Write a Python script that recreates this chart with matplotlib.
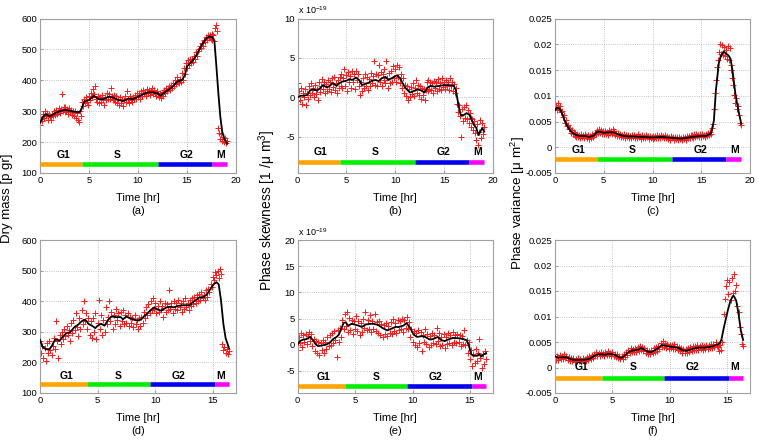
import matplotlib
matplotlib.use('Agg')
import matplotlib.pyplot as plt
import numpy as np

plt.rcParams['font.family'] = ['Liberation Sans', 'DejaVu Sans']
plt.rcParams['mathtext.fontset'] = 'custom'
plt.rcParams['mathtext.rm'] = 'Liberation Sans'
plt.rcParams['mathtext.it'] = 'Liberation Sans:italic'

# ---- data ----
# sample times [hr]
t_top = [0.0, 0.1, 0.2, 0.3, 0.4, 0.5, 0.6, 0.7, 0.8, 0.9,
         1.0, 1.1, 1.2, 1.3, 1.4, 1.5, 1.6, 1.7, 1.8, 1.9,
         2.0, 2.1, 2.2, 2.3, 2.4, 2.5, 2.6, 2.7, 2.8, 2.9,
         3.0, 3.1, 3.2, 3.3, 3.4, 3.5, 3.6, 3.7, 3.8, 3.9,
         4.0, 4.1, 4.2, 4.3, 4.4, 4.5, 4.6, 4.7, 4.8, 4.9,
         5.0, 5.1, 5.2, 5.3, 5.4, 5.5, 5.6, 5.7, 5.8, 5.9,
         6.0, 6.1, 6.2, 6.3, 6.4, 6.5, 6.6, 6.7, 6.8, 6.9,
         7.0, 7.1, 7.2, 7.3, 7.4, 7.5, 7.6, 7.7, 7.8, 7.9,
         8.0, 8.1, 8.2, 8.3, 8.4, 8.5, 8.6, 8.7, 8.8, 8.9,
         9.0, 9.1, 9.2, 9.3, 9.4, 9.5, 9.6, 9.7, 9.8, 9.9,
         10.0, 10.1, 10.2, 10.3, 10.4, 10.5, 10.6, 10.7, 10.8, 10.9,
         11.0, 11.1, 11.2, 11.3, 11.4, 11.5, 11.6, 11.7, 11.8, 11.9,
         12.0, 12.1, 12.2, 12.3, 12.4, 12.5, 12.6, 12.7, 12.8, 12.9,
         13.0, 13.1, 13.2, 13.3, 13.4, 13.5, 13.6, 13.7, 13.8, 13.9,
         14.0, 14.1, 14.2, 14.3, 14.4, 14.5, 14.6, 14.7, 14.8, 14.9,
         15.0, 15.1, 15.2, 15.3, 15.4, 15.5, 15.6, 15.7, 15.8, 15.9,
         16.0, 16.1, 16.2, 16.3, 16.4, 16.5, 16.6, 16.7, 16.8, 16.9,
         17.0, 17.1, 17.2, 17.3, 17.4, 17.5, 17.6, 17.7, 17.8, 17.9,
         18.0, 18.1, 18.2, 18.3, 18.4, 18.5, 18.6, 18.7, 18.8, 18.9,
         19.0, 19.1]
t_bot = t_top[:165]

# cell 1 (top row)
mass1 = [255, 275, 268, 290, 278, 300, 285, 295, 272, 290,
         280, 270, 292, 285, 300, 288, 305, 290, 298, 310,
         295, 308, 355, 300, 312, 298, 315, 300, 308, 292,
         310, 296, 305, 288, 302, 285, 300, 278, 295, 270,
         265, 300, 285, 330, 318, 340, 325, 345, 330, 320,
         348, 335, 360, 345, 372, 355, 380, 340, 330, 350,
         325, 345, 330, 352, 335, 320, 345, 335, 360, 340,
         355, 338, 375, 350, 335, 352, 340, 330, 348, 325,
         340, 320, 345, 328, 338, 318, 335, 350, 330, 365,
         340, 325, 348, 335, 330, 345, 338, 352, 340, 360,
         345, 358, 340, 365, 350, 370, 355, 362, 348, 372,
         358, 368, 352, 365, 375, 355, 368, 360, 350, 365,
         355, 345, 358, 342, 355, 362, 350, 370, 360, 375,
         365, 372, 380, 368, 385, 375, 392, 380, 400, 388,
         410, 395, 390, 405, 395, 425, 400, 440, 420, 455,
         440, 465, 448, 470, 455, 468, 460, 478, 470, 490,
         480, 495, 500, 512, 505, 520, 512, 530, 525, 540,
         532, 548, 538, 545, 535, 550, 530, 545, 528, 570,
         580, 560, 245, 230, 210, 225, 205, 218, 200, 212,
         198, 205]
skew1 = [1.8, -0.5, 0.8, -0.3, 1.2, -0.8, 0.5, 0.0, 1.0, -1.0,
         0.6, -0.2, 1.4, 0.3, 1.8, 0.5, 1.2, 0.0, 1.6, 0.4,
         1.1, -0.3, 1.9, 0.7, 1.5, 2.3, 1.0, 2.0, 0.6, 1.7,
         0.8, 2.2, 1.0, 1.9, 0.7, 2.4, 1.3, 2.6, 0.9, 1.8,
         0.6, 2.2, 1.2, 2.6, 1.5, 3.0, 1.2, 2.5, 3.6, 1.5,
         2.8, 0.8, 3.2, 1.9, 2.7, 1.2, 3.3, 2.0, 2.9, 1.0,
         3.4, 2.2, 3.0, 1.5, 0.3, 2.0, 0.8, 2.4, 1.2, 3.0,
         1.5, 2.6, 0.9, 2.3, 1.4, 3.1, 1.8, 2.7, 4.6, 1.6,
         3.0, 1.4, 2.8, 4.1, 1.9, 3.2, 1.5, 3.0, 2.2, 3.6,
         1.8, 4.6, 2.4, 1.2, 3.1, 1.8, 3.4, 2.0, 4.0, 2.5,
         3.6, 1.9, 4.1, 2.6, 3.8, 1.8, 3.0, 1.2, 2.4, 0.6,
         1.6, 0.2, 1.4, -0.3, 1.0, 0.0, 1.3, 0.4, 1.8, 0.2,
         1.2, 2.2, 0.5, 1.6, 0.3, 1.4, -0.2, 1.2, 0.3, 1.0,
         -0.3, 0.9, 2.0, 0.8, 2.2, 1.0, 2.0, 0.9, 1.8, 0.6,
         2.1, 1.2, 1.9, 0.8, 2.3, 1.1, 1.8, 0.9, 2.4, 1.3,
         1.9, 1.0, 2.2, 1.4, 2.0, 0.9, 2.5, 1.5, 2.0, 0.8,
         1.7, 0.5, 1.2, -0.8, -1.8, -1.0, -2.4, -5.0, -1.5, -3.0,
         -1.2, -2.6, -1.0, -2.8, -1.6, -3.2, -2.0, -2.6, -3.8, -2.8,
         -4.2, -3.0, -4.5, -5.4, -3.4, -6.0, -4.4, -2.9, -5.2, -3.3,
         -4.6, -3.8]  # x 1e-19
var1 = [7.6, 8.2, 7.2, 8.5, 7.4, 8.0, 6.9, 7.1, 5.8, 6.2,
        4.8, 5.2, 4.1, 4.4, 3.5, 3.8, 2.8, 3.3, 2.5, 2.9,
        2.2, 2.7, 2.0, 2.5, 1.9, 2.4, 1.8, 2.6, 2.0, 2.4,
        1.8, 2.5, 2.1, 1.7, 2.3, 1.6, 2.2, 1.8, 2.5, 2.0,
        2.4, 2.8, 2.5, 3.3, 2.7, 3.6, 2.8, 3.3, 2.6, 3.1,
        2.5, 3.2, 2.6, 3.0, 2.4, 3.4, 2.7, 3.1, 2.5, 3.6,
        2.8, 3.2, 2.4, 2.8, 2.2, 2.7, 2.1, 2.5, 1.9, 2.4,
        2.0, 2.5, 1.8, 2.3, 1.9, 2.4, 1.8, 2.2, 1.7, 2.4,
        1.9, 2.3, 1.7, 2.2, 1.8, 2.5, 1.9, 2.1, 1.6, 2.3,
        1.8, 2.2, 1.7, 2.4, 1.9, 2.1, 1.6, 2.2, 1.8, 2.0,
        1.6, 2.2, 1.7, 2.1, 1.8, 2.3, 1.7, 2.2, 1.8, 2.4,
        1.9, 2.1, 1.7, 2.3, 1.8, 2.2, 1.6, 2.0, 1.5, 2.1,
        1.7, 1.9, 1.5, 2.0, 1.6, 1.9, 1.5, 2.0, 1.6, 1.8,
        1.4, 2.0, 1.6, 1.9, 1.5, 2.1, 1.7, 2.2, 1.8, 2.3,
        1.9, 2.4, 1.8, 2.5, 2.0, 2.6, 2.1, 2.4, 1.9, 2.5,
        2.0, 2.6, 2.1, 2.4, 1.9, 2.6, 2.2, 2.8, 2.3, 3.0,
        2.5, 3.8, 4.5, 7.5, 10.5, 13.0, 15.5, 17.0, 18.5, 20.0,
        18.2, 19.8, 18.0, 19.5, 17.8, 18.8, 17.2, 19.6, 17.0, 19.2,
        16.0, 15.0, 13.5, 12.0, 10.2, 8.5, 9.5, 7.4, 8.0, 6.2,
        4.8, 4.4]  # x 1e-3

# smoothed curves, cell 1
ct_mass1 = [0.0, 0.3, 0.6, 1.0, 1.5, 2.0, 2.5, 3.0, 3.5, 4.0, 4.2, 4.5, 5.0, 5.5, 6.0,
            6.5, 7.0, 7.5, 8.0, 8.5, 9.0, 9.5, 10.0, 10.5, 11.0, 11.5, 12.0, 12.3,
            12.5, 13.0, 13.5, 14.0, 14.5, 14.8, 15.0, 15.5, 16.0, 16.5, 17.0, 17.3,
            17.6, 17.8, 18.0, 18.2, 18.4, 18.6, 18.8, 19.0, 19.1]
cy_mass1 = [262, 282, 290, 283, 293, 300, 304, 302, 298, 297, 304, 331, 336, 350, 339,
            339, 347, 344, 336, 333, 341, 339, 347, 355, 361, 361, 358, 350,
            356, 367, 378, 396, 401, 418, 445, 461, 483, 515, 537, 542,
            539, 526, 445, 358, 282, 233, 212, 201, 195]
ct_skew1 = [0.0, 0.3, 0.6, 1.0, 1.3, 1.6, 2.0, 2.3, 2.6, 3.0, 3.3, 3.6, 4.0, 4.3, 4.6,
            5.0, 5.3, 5.6, 6.0, 6.3, 6.6, 7.0, 7.3, 7.6, 8.0, 8.3, 8.6, 9.0, 9.3, 9.6,
            10.0, 10.2, 10.5, 11.0, 11.5, 12.0, 12.3, 12.6, 13.0, 13.3, 13.6, 14.0,
            14.5, 15.0, 15.5, 16.0, 16.2, 16.5, 16.7, 17.0, 17.3, 17.6, 18.0, 18.3,
            18.5, 18.7, 18.9, 19.1]
cy_skew1 = [0.0, 0.2, 0.2, 0.3, 0.9, 1.0, 0.85, 1.15, 1.55, 1.25, 1.45, 1.8, 1.45, 1.8, 2.0,
            2.1, 2.3, 2.2, 2.5, 2.2, 1.55, 1.75, 1.85, 2.1, 2.2, 2.05, 2.4, 2.6, 2.2, 2.4,
            2.7, 2.8, 2.4, 1.25, 0.6, 0.85, 1.0, 0.9, 0.6, 1.25, 1.45, 1.35,
            1.45, 1.55, 1.55, 1.45, 0.9, -1.2, -2.25, -2.25, -2.0, -2.25, -3.4, -3.9,
            -4.8, -4.35, -3.9, -4.35]
ct_var1 = [0.0, 0.2, 0.5, 0.8, 1.0, 1.3, 1.6, 2.0, 2.5, 3.0, 3.5, 4.0, 4.3, 4.6, 5.0,
           5.5, 6.0, 6.5, 7.0, 7.5, 8.0, 9.0, 10.0, 11.0, 12.0, 13.0, 13.5, 14.0,
           15.0, 15.5, 16.0, 16.3, 16.5, 16.8, 17.0, 17.3, 17.6, 17.8, 18.0, 18.2,
           18.5, 18.8, 19.1]
cy_var1 = [7.2, 7.7, 7.5, 6.2, 5.1, 4.0, 3.1, 2.5, 2.2, 2.2, 2.0, 2.3, 3.0, 3.0, 2.8,
           2.9, 2.9, 2.5, 2.2, 2.1, 2.1, 2.0, 1.9, 2.0, 1.8, 1.7, 1.8, 2.0,
           2.2, 2.2, 2.7, 5.2, 11.0, 16.3, 17.7, 18.6, 18.1, 17.8, 17.2, 15.0,
           10.4, 7.2, 4.6]

# cell 2 (bottom row)
mass2 = [270, 230, 255, 215, 248, 205, 262, 230, 270, 240,
         225, 255, 280, 245, 335, 270, 215, 290, 260, 300,
         275, 310, 285, 320, 290, 305, 270, 330, 295, 340,
         305, 360, 315, 285, 345, 310, 370, 325, 400, 335,
         360, 310, 345, 290, 335, 280, 345, 300, 360, 275,
         330, 405, 310, 355, 290, 340, 300, 380, 325, 350,
         400, 335, 365, 310, 355, 325, 375, 340, 360, 320,
         365, 335, 370, 325, 355, 330, 360, 320, 350, 330,
         345, 315, 355, 325, 340, 310, 345, 320, 350, 330,
         365, 345, 380, 355, 390, 360, 400, 370, 410, 375,
         395, 360, 385, 365, 400, 370, 385, 350, 395, 365,
         390, 370, 435, 375, 395, 360, 400, 375, 395, 370,
         405, 380, 395, 365, 400, 375, 410, 380, 395, 370,
         405, 385, 410, 390, 415, 395, 420, 400, 425, 405,
         430, 410, 420, 405, 435, 415, 440, 430, 455, 445,
         480, 470, 495, 485, 500, 475, 505, 490, 260, 240,
         250, 230, 245, 228, 238]
skew2 = [-1.0, 1.5, 0.3, 2.3, -0.5, 1.8, 0.5, 2.0, 0.2, 1.6,
         2.4, 0.8, 2.0, -0.3, 1.2, -1.2, 0.8, -1.5, 0.5, -2.0,
         0.3, -0.9, 1.0, -1.6, 0.6, -0.8, 1.5, -0.2, 1.8, 0.0,
         2.2, 0.4, 2.6, 1.0, -2.3, 2.8, 0.6, 3.2, 1.5, 4.8,
         3.0, 5.8, 3.5, 6.3, 2.4, 5.2, 2.8, 4.8, 2.0, 4.5,
         3.0, 5.5, 2.6, 4.6, 1.8, 4.2, 2.5, 5.0, 3.2, 6.2,
         2.8, 4.8, 3.0, 5.6, 2.4, 4.5, 3.0, 5.8, 2.6, 4.4,
         2.2, 4.6, 1.8, 4.0, 1.5, 3.8, 2.0, 4.2, 1.6, 3.5,
         2.2, 4.4, 2.0, 5.0, 2.6, 4.2, 2.3, 4.8, 2.8, 4.5,
         3.0, 5.0, 2.5, 4.8, 3.2, 5.3, 3.0, 4.4, 1.5, 3.0,
         0.5, 2.6, 0.0, 2.2, -0.5, 2.8, 0.3, 2.4, -1.2, 1.8,
         0.6, 3.0, 0.2, 2.0, -0.4, 1.6, 0.0, 2.2, 0.4, 1.8,
         0.2, 3.2, 0.8, 2.3, -0.3, 1.5, 0.0, 2.0, -0.6, 1.4,
         0.2, 2.2, 0.4, 1.8, 0.0, 2.4, 0.6, 1.9, 0.3, 2.1,
         0.5, 1.8, -0.2, 1.6, 0.2, 2.8, 0.0, 1.0, -1.5, 0.5,
         -2.8, -1.0, -4.0, -1.8, -3.5, -0.8, -3.0, -1.5, 1.2, -2.5,
         -4.5, -1.8, -3.6, -1.2, -2.8]  # x 1e-19
var2 = [2.6, 1.5, 2.2, 1.4, 2.4, 1.6, 2.3, 1.7, 2.6, 1.8,
        2.2, 1.4, 2.0, 1.3, 1.9, 1.2, 1.8, 1.1, 1.7, 1.2,
        1.9, 1.3, 1.6, 1.0, 1.8, 1.3, 1.7, 1.2, 2.0, 1.5,
        2.2, 1.6, 2.5, 1.9, 2.7, 2.2, 3.0, 2.3, 2.9, 2.2,
        3.1, 2.4, 2.8, 2.2, 3.0, 2.4, 3.2, 2.5, 2.9, 2.3,
        3.0, 2.2, 2.7, 2.0, 2.6, 1.8, 2.3, 1.6, 2.2, 1.7,
        2.6, 2.0, 3.1, 2.5, 3.4, 2.8, 3.8, 3.0, 3.7, 3.1,
        3.9, 3.0, 4.0, 3.2, 4.2, 3.4, 4.0, 3.3, 3.8, 2.9,
        3.5, 2.7, 3.3, 2.6, 3.5, 2.8, 3.8, 3.1, 4.0, 3.3,
        4.3, 3.6, 4.9, 4.0, 5.2, 4.1, 4.8, 3.8, 4.6, 3.7,
        4.5, 3.8, 4.4, 3.6, 4.6, 3.7, 4.2, 3.4, 4.1, 3.2,
        3.8, 2.9, 3.6, 2.8, 3.7, 2.9, 3.9, 3.1, 4.0, 3.2,
        4.2, 3.4, 4.3, 3.5, 4.4, 3.4, 4.2, 3.6, 4.4, 3.5,
        4.3, 3.6, 4.5, 3.7, 4.4, 3.8, 4.7, 3.9, 4.6, 4.0,
        5.0, 4.2, 4.0, 3.3, 4.4, 3.5, 5.0, 10.5, 13.5, 16.0,
        17.2, 14.5, 16.8, 13.2, 17.5, 14.6, 18.4, 15.0, 16.2, 12.0,
        10.8, 8.0, 6.5, 4.6, 4.2]  # x 1e-3

ct_mass2 = [0.0, 0.2, 0.5, 0.8, 1.0, 1.3, 1.5, 1.7, 2.0, 2.3, 2.6, 3.0, 3.3, 3.6, 3.8,
            4.0, 4.2, 4.5, 4.8, 5.0, 5.3, 5.6, 5.9, 6.2, 6.6, 7.0, 7.2, 7.5, 7.8, 8.2,
            8.5, 8.8, 9.0, 9.3, 9.6, 9.9, 10.2, 10.5, 10.8, 11.0, 11.3, 11.6, 12.0,
            12.5, 13.0, 13.2, 13.5, 13.8, 14.2, 14.5, 14.8, 15.1, 15.3, 15.5, 15.7,
            15.9, 16.1, 16.4]
cy_mass2 = [274, 252, 243, 243, 252, 274, 274, 271, 285, 296, 298, 316, 323, 334, 339,
            337, 326, 320, 312, 320, 326, 320, 339, 350, 348, 348, 341, 350, 344, 339,
            337, 341, 350, 360, 371, 380, 373, 369, 376, 380, 382, 380, 385,
            387, 387, 395, 403, 412, 414, 423, 441, 457, 462, 455, 403,
            327, 279, 246]
ct_skew2 = [0.0, 0.2, 0.5, 0.8, 1.1, 1.3, 1.6, 1.8, 2.2, 2.5, 2.8, 3.1, 3.4, 3.6, 3.8,
            4.0, 4.2, 4.4, 4.7, 5.0, 5.3, 5.6, 5.9, 6.3, 6.6, 7.0, 7.4, 7.8, 8.1, 8.5,
            8.8, 9.2, 9.5, 9.8, 10.1, 10.4, 10.8, 11.1, 11.5, 11.8, 12.2, 12.5, 12.8,
            13.1, 13.5, 14.0, 14.4, 14.7, 14.9, 15.1, 15.3, 15.6, 15.8, 16.0, 16.2,
            16.4]
cy_skew2 = [0.0, 0.7, 1.0, 1.1, 1.5, 1.0, 0.05, -0.25, -0.1, 0.05, 0.4, 1.1, 1.5, 1.95, 3.0,
            4.15, 4.3, 3.65, 4.0, 3.85, 3.65, 3.4, 3.85, 4.0, 4.0, 3.8, 3.2, 2.75, 3.0, 3.4,
            3.4, 3.65, 4.15, 3.2, 1.95, 1.5, 1.65, 1.5, 1.0, 1.1, 1.5, 0.9, 0.7,
            1.0, 1.3, 1.25, 1.1, 0.9, -0.1, -1.8, -2.1, -2.1, -1.8, -2.25, -1.8,
            -1.6]
ct_var2 = [0.0, 0.3, 0.6, 1.0, 1.3, 1.6, 2.0, 2.5, 3.0, 3.3, 3.6, 4.0, 4.3, 4.7, 5.0,
           5.3, 5.6, 5.8, 6.1, 6.4, 6.7, 7.0, 7.3, 7.5, 7.8, 8.1, 8.4, 8.7, 9.0, 9.3,
           9.6, 10.0, 10.4, 10.8, 11.2, 11.5, 11.8, 12.2, 12.6, 13.0, 13.4, 13.8,
           14.0, 14.3, 14.5, 14.7, 14.9, 15.1, 15.3, 15.5, 15.6, 15.8, 16.0, 16.2,
           16.4]
cy_var2 = [2.2, 1.9, 2.0, 2.0, 1.7, 1.5, 1.5, 1.5, 1.7, 2.1, 2.5, 2.6, 2.5, 2.7, 2.6,
           2.4, 2.0, 1.9, 2.4, 3.0, 3.3, 3.4, 3.5, 3.8, 3.5, 3.1, 3.0, 3.4, 3.8, 4.4,
           4.3, 4.1, 4.0, 3.8, 3.3, 3.3, 3.5, 3.8, 3.9, 3.9, 4.0, 4.2,
           4.4, 4.6, 5.4, 7.6, 9.6, 11.5, 13.1, 14.0, 14.0, 13.1, 10.5, 7.3,
           5.4]

# cell-cycle phases
phase_names = ['G1', 'S', 'G2', 'M']
phase_colors = ['#FFA500', '#00EE00', '#0000EE', '#FF00FF']
bounds_top = [0.0, 4.3, 12.0, 17.5, 19.1]
bounds_bot = [0.0, 4.1, 9.5, 15.2, 16.4]
labx_top = [2.4, 7.9, 14.9, 18.4]
labx_bot = [2.3, 6.8, 12.0, 15.7]

var_ticks = [-0.005, 0, 0.005, 0.01, 0.015, 0.02, 0.025]
var_ticklabels = ['-0.005', '0', '0.005', '0.01', '0.015', '0.02', '0.025']


def draw_panel(ax, t, pts, ct, cy, scale, xmax, xticks, ylim, yticks, yticklabels,
               bounds, bar_y, lab_y, labx, letter):
    pts = np.array(pts) * scale
    cy = np.array(cy) * scale
    ax.plot(t, pts, '+', color='#ff1a1a', ms=5, mew=0.7, zorder=2)
    ax.plot(ct, cy, color='black', lw=1.3, zorder=3)
    for i in range(4):
        ax.plot([bounds[i], bounds[i + 1]], [bar_y, bar_y], color=phase_colors[i],
                lw=3.3, solid_capstyle='butt', zorder=4)
        ax.text(labx[i], lab_y, phase_names[i], ha='center', va='center',
                fontsize=7.5, fontweight='bold')
    ax.set_xlim(0, xmax)
    ax.set_ylim(*ylim)
    ax.set_xticks(xticks)
    ax.set_yticks(yticks)
    ax.set_yticklabels(yticklabels)
    ax.grid(True, ls=':', color='#b0b0b0', lw=0.6)
    ax.set_axisbelow(True)
    for sp in ax.spines.values():
        sp.set_color('#a0a0a0')
        sp.set_linewidth(0.8)
    ax.tick_params(direction='in', length=2, color='#a0a0a0', labelsize=6.8, pad=2)
    ax.set_xlabel('Time [hr]\n(' + letter + ')', fontsize=8, linespacing=1.3, labelpad=6)


fig = plt.figure(figsize=(7.59, 4.42), dpi=100)
W, H = 759.0, 442.0
lefts = [40, 297.5, 555]
widths = [196, 195.5, 195]


def make_ax(col, top, bottom):
    return fig.add_axes([lefts[col] / W, 1 - bottom / H, widths[col] / W, (bottom - top) / H])


ax_a = make_ax(0, 18.5, 173)
ax_b = make_ax(1, 18.5, 173)
ax_c = make_ax(2, 18.5, 173)
ax_d = make_ax(0, 240, 393)
ax_e = make_ax(1, 240, 393)
ax_f = make_ax(2, 240, 393)

draw_panel(ax_a, t_top, mass1, ct_mass1, cy_mass1, 1, 20, [0, 5, 10, 15, 20],
           (100, 600), [100, 200, 300, 400, 500, 600], ['100', '200', '300', '400', '500', '600'],
           bounds_top, 129, 158, labx_top, 'a')
draw_panel(ax_b, t_top, skew1, ct_skew1, cy_skew1, 1, 20, [0, 5, 10, 15, 20],
           (-9.6, 10), [-5, 0, 5, 10], ['-5', '0', '5', '10'],
           bounds_top, -8.2, -6.9, labx_top, 'b')
draw_panel(ax_c, t_top, var1, ct_var1, cy_var1, 1e-3, 20, [0, 5, 10, 15, 20],
           (-0.005, 0.025), var_ticks, var_ticklabels,
           bounds_top, -0.0023, -0.0005, labx_top, 'c')
draw_panel(ax_d, t_bot, mass2, ct_mass2, cy_mass2, 1, 17, [0, 5, 10, 15],
           (100, 600), [100, 200, 300, 400, 500, 600], ['100', '200', '300', '400', '500', '600'],
           bounds_bot, 128.5, 156, labx_bot, 'd')
draw_panel(ax_e, t_bot, skew2, ct_skew2, cy_skew2, 1, 17, [0, 5, 10, 15],
           (-9.2, 20), [-5, 0, 5, 10, 15, 20], ['-5', '0', '5', '10', '15', '20'],
           bounds_bot, -7.8, -6.2, labx_bot, 'e')
draw_panel(ax_f, t_bot, var2, ct_var2, cy_var2, 1e-3, 17, [0, 5, 10, 15],
           (-0.005, 0.025), var_ticks, var_ticklabels,
           bounds_bot, -0.002, 0.0, labx_bot, 'f')

for ax in (ax_b, ax_e):
    ax.text(0.0, 1.015, r'x 10$^{-19}$', transform=ax.transAxes, fontsize=6.5,
            ha='left', va='bottom')

fig.text(7 / W, 1 - 198 / H, 'Dry mass [p gr]', rotation=90, ha='center', va='center',
         fontsize=9.5)
fig.text(267 / W, 1 - 210 / H, r'Phase skewness [1 /μ m$^{3}$]', rotation=90,
         ha='center', va='center', fontsize=10)
fig.text(518 / W, 1 - 203 / H, r'Phase variance [μ m$^{2}$]', rotation=90,
         ha='center', va='center', fontsize=9.7)

fig.savefig('out.png', dpi=100)
